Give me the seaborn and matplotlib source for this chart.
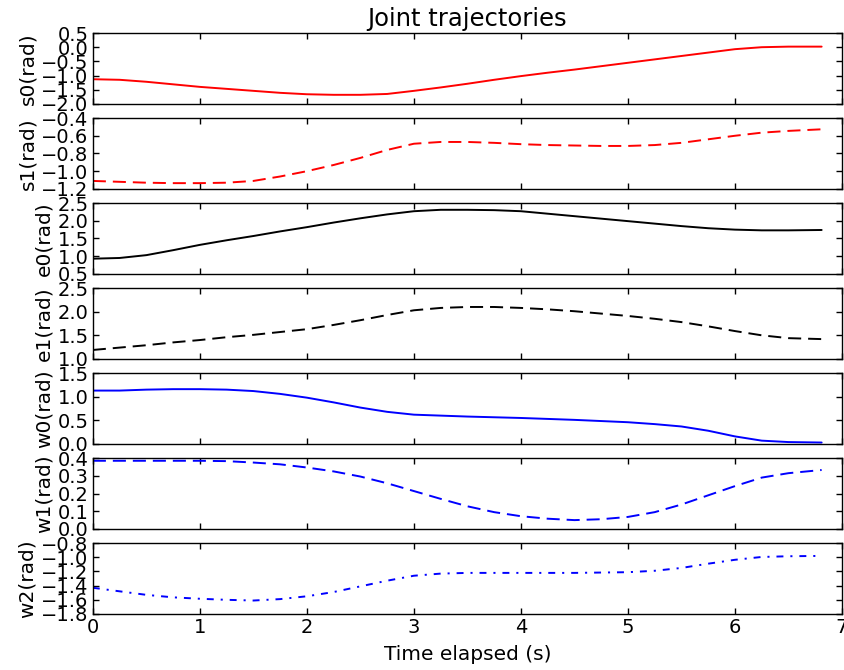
import numpy as np
import pandas as pd
import matplotlib
matplotlib.use("Agg")
import matplotlib.pyplot as plt
from matplotlib.ticker import MultipleLocator
import seaborn as sns

# ---- data ----
t = [0, 0.25, 0.5, 0.75, 1, 1.25, 1.5, 1.75, 2, 2.25, 2.5, 2.75, 3, 3.25, 3.5,
     3.75, 4, 4.25, 4.5, 4.75, 5, 5.25, 5.5, 5.75, 6, 6.25, 6.5, 6.81]

s0 = [-1.13, -1.15, -1.22, -1.31, -1.40, -1.47, -1.54, -1.61, -1.66, -1.68, -1.68, -1.65,
      -1.54, -1.42, -1.29, -1.15, -1.02, -0.90, -0.79, -0.67, -0.55, -0.43, -0.31, -0.19,
      -0.07, 0.00, 0.02, 0.02]
s1 = [-1.11, -1.12, -1.13, -1.135, -1.135, -1.13, -1.11, -1.06, -1.00, -0.93, -0.85, -0.76,
      -0.69, -0.67, -0.67, -0.68, -0.695, -0.705, -0.71, -0.715, -0.715, -0.705, -0.68, -0.64,
      -0.60, -0.565, -0.545, -0.527]
e0 = [0.93, 0.95, 1.03, 1.17, 1.32, 1.45, 1.57, 1.70, 1.82, 1.95, 2.07, 2.18, 2.27, 2.31,
      2.31, 2.30, 2.27, 2.20, 2.13, 2.06, 1.99, 1.92, 1.85, 1.79, 1.75, 1.73, 1.73, 1.74]
e1 = [1.19, 1.24, 1.29, 1.35, 1.40, 1.46, 1.51, 1.57, 1.63, 1.72, 1.82, 1.93, 2.03, 2.08,
      2.10, 2.10, 2.08, 2.05, 2.01, 1.96, 1.91, 1.85, 1.78, 1.69, 1.59, 1.50, 1.44, 1.42]
w0 = [1.13, 1.13, 1.15, 1.16, 1.16, 1.15, 1.12, 1.06, 0.98, 0.88, 0.77, 0.68, 0.62, 0.60,
      0.58, 0.565, 0.55, 0.53, 0.51, 0.485, 0.46, 0.42, 0.37, 0.28, 0.16, 0.07, 0.04, 0.03]
w1 = [0.385, 0.385, 0.385, 0.385, 0.385, 0.383, 0.375, 0.365, 0.347, 0.325, 0.296, 0.258,
      0.214, 0.17, 0.128, 0.095, 0.072, 0.058, 0.05, 0.055, 0.068, 0.095, 0.138, 0.19,
      0.242, 0.29, 0.315, 0.333]
w2 = [-1.43, -1.48, -1.53, -1.565, -1.585, -1.60, -1.61, -1.59, -1.55, -1.49, -1.41, -1.33,
      -1.26, -1.23, -1.22, -1.22, -1.22, -1.22, -1.22, -1.215, -1.21, -1.19, -1.15, -1.09,
      -1.035, -0.995, -0.985, -0.98]

joints = ["s0", "s1", "e0", "e1", "w0", "w1", "w2"]
series = [s0, s1, e0, e1, w0, w1, w2]
ylabels = ["s0(rad)", "s1(rad)", "e0(rad)", "e1(rad)", "w0(rad)", "w1(rad)", "w2(rad)"]
ylims = [(-2.0, 0.5), (-1.2, -0.4), (0.5, 2.5), (1.0, 2.5), (0.0, 1.5), (0.0, 0.4), (-1.8, -0.8)]
ysteps = [0.5, 0.2, 0.5, 0.5, 0.5, 0.1, 0.2]
xticks = [0, 1, 2, 3, 4, 5, 6, 7]
title = "Joint trajectories"
xlabel = "Time elapsed (s)"

# ---- styling ----
colors = ["#ff0000", "#ff0000", "#000000", "#000000", "#0000ff", "#0000ff", "#0000ff"]
dashed = (0, (9.4, 5.0))
dashdot = (0, (5.0, 5.0, 1.5, 5.0))
styles = ["-", dashed, "-", dashed, "-", dashed, dashdot]

sns.set_style("ticks", {"xtick.direction": "in", "ytick.direction": "in",
                        "axes.edgecolor": "black", "text.color": "black",
                        "xtick.color": "black", "ytick.color": "black",
                        "axes.labelcolor": "black"})
plt.rcParams["font.family"] = ["DejaVu Sans"]
plt.rcParams["xtick.top"] = True
plt.rcParams["ytick.right"] = True
plt.rcParams["xtick.major.size"] = 4
plt.rcParams["ytick.major.size"] = 4
plt.rcParams["axes.linewidth"] = 1.0
plt.rcParams["lines.scale_dashes"] = False

df = pd.DataFrame({"t": np.tile(t, len(joints)),
                   "joint": np.repeat(joints, len(t)),
                   "value": np.concatenate([np.asarray(s, float) for s in series])})

fig, axes = plt.subplots(len(joints), 1, sharex=True, figsize=(8.44, 6.70), dpi=100)
fig.subplots_adjust(left=0.110, right=0.9976, top=0.9507, bottom=0.0836, hspace=0.2)

fs_tick = 14
fs_label = 14.5
for i, (ax, j) in enumerate(zip(axes, joints)):
    sns.lineplot(data=df[df["joint"] == j], x="t", y="value", ax=ax,
                 color=colors[i], linestyle=styles[i], linewidth=1.4)
    ax.set_ylim(*ylims[i])
    ax.yaxis.set_major_locator(MultipleLocator(ysteps[i]))
    ax.set_ylabel(ylabels[i], fontsize=fs_label, labelpad=3)
    ax.set_xlabel("")
    ax.tick_params(axis="both", which="both", direction="in", top=True, right=True,
                   labelsize=fs_tick, length=4, width=1.0, pad=3)
    for sp in ax.spines.values():
        sp.set_visible(True)
        sp.set_color("black")
        sp.set_linewidth(1.0)

axes[-1].set_xlim(0, 7)
axes[-1].set_xticks(xticks)
axes[-1].set_xlabel(xlabel, fontsize=fs_label, labelpad=6)
axes[0].set_title(title, fontsize=17.5, pad=5)

fig.savefig("out.png", dpi=100, facecolor="white")
